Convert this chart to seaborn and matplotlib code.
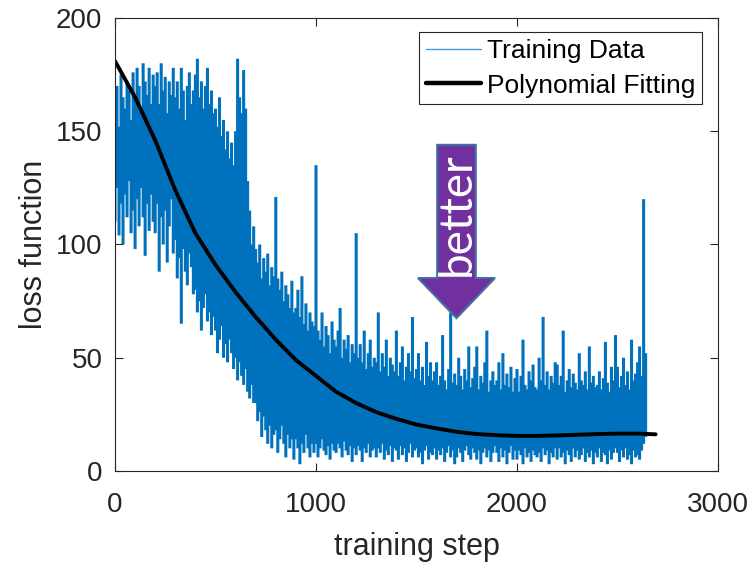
import numpy as np
import matplotlib
matplotlib.use("Agg")
import matplotlib.pyplot as plt
from matplotlib.lines import Line2D
from matplotlib.patches import FancyArrow
import seaborn as sns

# ----------------------------
# Data
# ----------------------------
# noisy training loss: highest and lowest value in each 10-step bin
loss_max = [
    158, 170, 152, 175, 165, 160, 172, 168, 155, 176,
    165, 178, 170, 160, 180, 172, 166, 178, 162, 175,
    170, 176, 162, 180, 168, 174, 158, 172, 166, 178,
    165, 172, 160, 178, 168, 155, 170, 176, 162, 168,
    175, 182, 165, 172, 160, 170, 178, 162, 168, 158,
    160, 152, 165, 148, 155, 142, 150, 138, 145, 135,
    150, 182, 165, 158, 177, 160, 128, 115, 100, 108,
    98, 92, 100, 85, 94, 88, 96, 82, 90, 86,
    121, 85, 80, 88, 75, 82, 78, 72, 84, 70,
    72, 80, 68, 86, 65, 74, 62, 70, 66, 64,
    135, 62, 58, 70, 55, 64, 60, 52, 66, 58,
    55, 62, 72, 50, 58, 54, 60, 48, 56, 52,
    105, 50, 56, 48, 62, 45, 52, 58, 46, 50,
    48, 70, 44, 52, 46, 58, 42, 50, 47, 44,
    62, 42, 48, 55, 40, 46, 52, 44, 68, 41,
    45, 52, 40, 46, 38, 57, 42, 48, 40, 44,
    48, 38, 42, 60, 40, 36, 45, 70, 39, 43,
    38, 50, 42, 36, 45, 40, 55, 37, 41, 46,
    55, 36, 42, 39, 48, 62, 35, 40, 44, 38,
    40, 48, 36, 52, 38, 43, 37, 46, 35, 41,
    45, 35, 42, 58, 38, 36, 44, 40, 47, 37,
    36, 50, 40, 68, 38, 44, 36, 42, 39, 48,
    47, 38, 42, 62, 35, 40, 45, 37, 43, 39,
    36, 52, 40, 38, 44, 36, 55, 39, 42, 37,
    38, 44, 36, 41, 57, 39, 35, 46, 40, 60,
    46, 37, 42, 50, 38, 44, 36, 58, 40, 43,
    48, 55, 42, 120, 52,
]
loss_min = [
    110, 125, 104, 118, 100, 122, 112, 128, 105, 115,
    98, 120, 108, 125, 112, 95, 118, 106, 122, 110,
    105, 118, 88, 112, 100, 115, 92, 108, 120, 96,
    102, 85, 94, 65, 98, 88, 82, 96, 90, 78,
    80, 70, 75, 62, 72, 78, 66, 70, 60, 68,
    62, 52, 58, 64, 50, 56, 48, 58, 52, 45,
    50, 40, 48, 42, 38, 45, 35, 32, 38, 30,
    30, 22, 26, 15, 24, 18, 12, 20, 10, 16,
    18, 8, 14, 20, 12, 6, 16, 10, 14, 5,
    14, 10, 3, 12, 8, 16, 10, 6, 12, 8,
    12, 6, 10, 14, 9, 7, 11, 5, 12, 9,
    8, 12, 10, 6, 13, 9, 7, 11, 4, 10,
    7, 11, 9, 4, 10, 8, 12, 6, 9, 10,
    6, 10, 8, 12, 5, 9, 7, 11, 4, 10,
    9, 5, 11, 7, 10, 4, 8, 12, 6, 9,
    10, 6, 8, 3, 9, 11, 5, 8, 7, 10,
    5, 9, 7, 10, 4, 8, 11, 6, 9, 3,
    6, 10, 8, 4, 9, 11, 7, 5, 10, 8,
    5, 9, 3, 8, 10, 6, 9, 4, 8, 11,
    8, 4, 10, 6, 9, 3, 8, 11, 5, 9,
    5, 9, 7, 3, 10, 6, 8, 4, 9, 7,
    6, 8, 4, 10, 7, 9, 3, 8, 6, 10,
    5, 10, 6, 8, 3, 9, 7, 4, 10, 6,
    9, 5, 7, 10, 4, 8, 6, 9, 3, 8,
    6, 10, 4, 8, 7, 3, 9, 5, 8, 10,
    8, 4, 9, 6, 10, 5, 7, 3, 9, 6,
    7, 5, 9, 12, 15,
]
steps = np.arange(len(loss_max)) * 10

fit_steps = [0, 100, 200, 300, 400, 500, 600, 700, 800, 900, 1000, 1100, 1200,
             1300, 1400, 1500, 1600, 1700, 1800, 1900, 2000, 2100, 2200, 2300,
             2400, 2500, 2600, 2690]
fit_loss = [181, 165, 146, 124, 105, 91, 79, 68, 58, 49, 42, 35, 30,
            26, 23, 20.5, 18.8, 17.3, 16.3, 15.8, 15.5, 15.5, 15.7, 16,
            16.3, 16.5, 16.5, 16.2]

x_ticks = [0, 1000, 2000, 3000]
y_ticks = [0, 50, 100, 150, 200]

# ----------------------------
# Style
# ----------------------------
sns.set_theme(style="ticks")
plt.rcParams["font.family"] = ["Liberation Sans", "DejaVu Sans"]
dark = "#262626"
blue = "#0072BD"

fig = plt.figure(figsize=(7.53, 5.64), dpi=100)
ax = fig.add_axes([0.1527, 0.1649, 0.8008, 0.8032])

# training data drawn as min-max column per bin (dense trace look)
trace = ax.vlines(steps, loss_min, loss_max, color=blue, lw=2.2)
trace.set_snap(False)
sns.lineplot(x=fit_steps, y=fit_loss, ax=ax, color="black", lw=2.8,
             estimator=None)

ax.set_xlim(0, 3000)
ax.set_ylim(0, 200)
ax.set_xticks(x_ticks)
ax.set_yticks(y_ticks)
ax.tick_params(direction="in", length=6, width=0.8, colors=dark,
               labelsize=20, top=True, right=True)
ax.tick_params(axis="x", pad=15)
ax.tick_params(axis="y", pad=9)
for s in ax.spines.values():
    s.set_visible(True)
    s.set_color(dark)
    s.set_linewidth(0.8)

ax.set_xlabel("training step", fontsize=22, color=dark, labelpad=10)
ax.set_ylabel("loss function", fontsize=22, color=dark, labelpad=5)

handles = [Line2D([], [], color="#4A9AD8", lw=1.0),
           Line2D([], [], color="black", lw=3.2)]
leg = ax.legend(handles, ["Training Data", "Polynomial Fitting"],
                loc="upper right", bbox_to_anchor=(0.973, 0.968),
                borderaxespad=0, fontsize=19, fancybox=False,
                handlelength=2.1, handletextpad=0.2, borderpad=0.25,
                labelspacing=0.4, framealpha=1)
leg.get_frame().set_edgecolor(dark)
leg.get_frame().set_linewidth(0.8)
for t in leg.get_texts():
    t.set_color("black")

# "better" arrow
arrow = FancyArrow(1699, 144, 0, 67.5 - 144, width=192, head_width=383,
                   head_length=17.7, length_includes_head=True,
                   facecolor="#7030A0", edgecolor="#41719C", lw=1.5, zorder=5)
ax.add_patch(arrow)
ax.text(1699, 113.5, "better", rotation=90, ha="center", va="center",
        color="white", fontsize=33, family="Lato", zorder=6)

fig.savefig("out.png", dpi=100)
